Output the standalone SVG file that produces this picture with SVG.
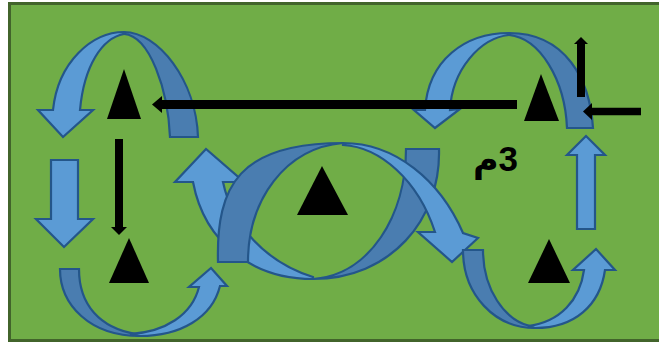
<svg xmlns="http://www.w3.org/2000/svg" width="659" height="344" viewBox="0 0 659 344">
<style>
.lt{fill:#5b9bd5;stroke:#24568a;stroke-width:2.2;stroke-linejoin:miter}
.dk{fill:#4a7db0;stroke:#24568a;stroke-width:2.2;stroke-linejoin:miter}
.tri{fill:#000}
.bl{stroke:#000;fill:none}
.hd{fill:#000}
</style>
<rect x="9.5" y="3.5" width="665" height="337" fill="#70ad47" stroke="#42642b" stroke-width="3"/>

<g id="arrowA">
<path class="dk" d="M124,32 C158,32 196,80 198,137 L170,137 C168,90 150,36 124,34 Z"/>
<path class="lt" d="M124,32 C92,32 58,62 53,110 L38,110 L63,137 L93,110 L80,110 C84,66 102,38 124,34 Z"/>
</g>

<g id="arrowB">
<path class="dk" d="M509,33 C566,33 590,80 593,128 L567,128 C565,80 540,38 509,35 Z"/>
<path class="lt" d="M509,33 C465,33 428,60 425,110 L414,110 L435,128 L460,109 L450,110 C452,70 480,38 509,35 Z"/>
</g>

<g id="arrowC">
<path class="lt" d="M313,279 C255,279 205,245 193,182 L175,182 L206,149 L244,182 L223,182 C232,225 265,262 313,277 Z"/>
<path class="dk" d="M218,262 C216,185 240,143 343,143 C285,148 248,200 248,262 Z"/>
<path class="dk" d="M406,149 L439,149 C441,220 390,279 313,279 C370,275 406,215 406,149 Z"/>
<path class="lt" d="M343,143 C395,143 440,180 463,233 L478,238 L452,262 L418,232 L435,232 C418,180 380,147 343,145 Z"/>
</g>

<g id="arrowD">
<path class="dk" d="M60,269 L79,269 C79,305 100,328 136,334 L140,336 C90,336 60,305 60,269 Z"/>
<path class="lt" d="M140,336 C180,336 212,318 220,286 L227,286 L211,268 L189,287 L199,287 C192,315 165,332 130,334 Z"/>
</g>

<g id="arrowE">
<path class="dk" d="M463,250 L483,250 C483,290 505,320 530,326 L535,328 C495,328 463,295 463,250 Z"/>
<path class="lt" d="M535,328 C575,328 600,305 605,270 L615,270 L596,249 L573,270 L584,270 C580,300 560,322 528,326 Z"/>
</g>

<g id="arrowDown">
<path class="lt" d="M51,160 L78,160 L78,219 L93,219 L64,247 L36,219 L51,219 Z"/>
</g>

<g id="arrowUp">
<path class="lt" d="M586,136 L605,155 L595,155 L595,229 L577,229 L577,155 L567,155 Z"/>
</g>

<g id="tri1"><polygon class="tri" points="124,69 107,119 141,119"/></g>
<g id="tri2"><polygon class="tri" points="129,238 109,283 149,283"/></g>
<g id="tri3"><polygon class="tri" points="322,166 297,215 348,215"/></g>
<g id="tri4"><polygon class="tri" points="541,74 524,121 559,121"/></g>
<g id="tri5"><polygon class="tri" points="549,239 528,283 570,283"/></g>

<g id="label">
<text x="518" y="171" text-anchor="end" font-family="'Liberation Sans','DejaVu Sans',sans-serif" font-weight="bold" font-size="35" fill="#000" direction="ltr" unicode-bidi="bidi-override">م3</text>
</g>

<g id="connectors">
<line class="bl" x1="517" y1="104.5" x2="161" y2="104.5" stroke-width="9"/>
<polygon class="hd" points="152,104.5 162,96 162,113"/>
<line class="bl" x1="119" y1="139" x2="119" y2="228" stroke-width="8"/>
<polygon class="hd" points="119,235 111,227 127,227"/>
<line class="bl" x1="581" y1="97" x2="581" y2="43" stroke-width="8"/>
<polygon class="hd" points="581,37 574,44 588,44"/>
<line class="bl" x1="641" y1="111.5" x2="591" y2="111.5" stroke-width="7.5"/>
<polygon class="hd" points="583,111.5 592,103 592,120"/>
</g>
</svg>
